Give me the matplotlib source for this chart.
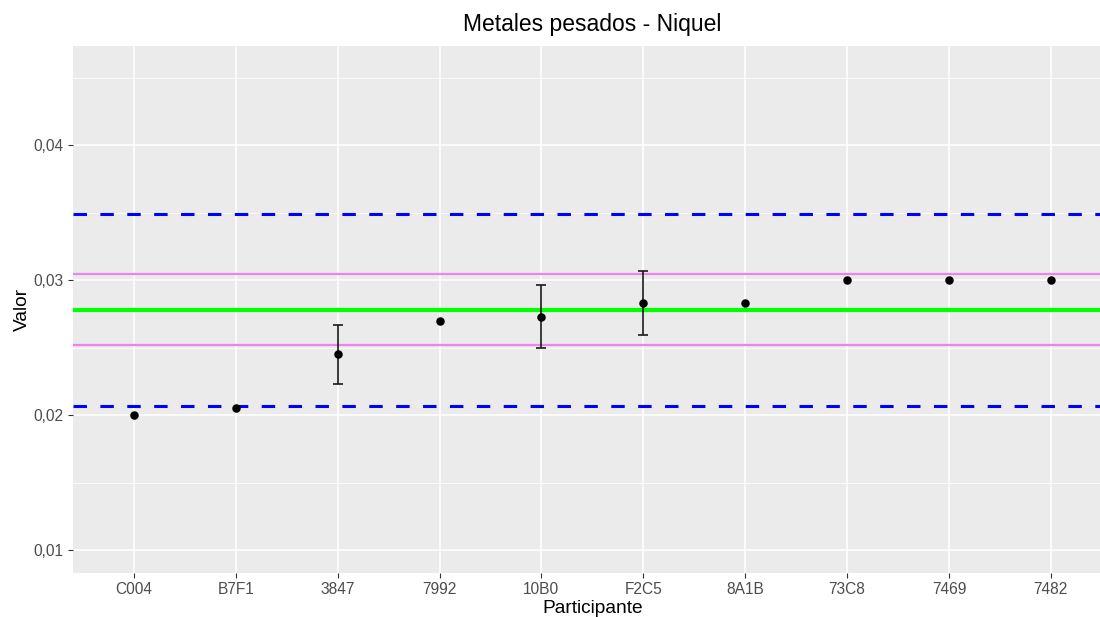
import numpy as np
import matplotlib
matplotlib.use("Agg")
import matplotlib.pyplot as plt
from matplotlib.ticker import FixedLocator, FuncFormatter

plt.rcParams['font.family'] = ['Liberation Sans', 'DejaVu Sans']

participantes = ['C004', 'B7F1', '3847', '7992', '10B0', 'F2C5', '8A1B', '73C8', '7469', '7482']
valores = [0.0200, 0.0205, 0.0245, 0.0270, 0.0273, 0.0283, 0.0283, 0.0300, 0.0300, 0.0300]
err_inf = [np.nan, np.nan, 0.0223, np.nan, 0.0250, 0.0259, np.nan, np.nan, np.nan, np.nan]
err_sup = [np.nan, np.nan, 0.0267, np.nan, 0.0296, 0.0307, np.nan, np.nan, np.nan, np.nan]

valor_asignado = 0.02778
lim_u = [0.02519, 0.03042]
lim_z = [0.02069, 0.03489]

fig = plt.figure(figsize=(11, 6.17), dpi=100)
ax = fig.add_axes([0.0661, 0.0713, 0.9448, 0.8546])
ax.set_facecolor('#EBEBEB')
for s in ax.spines.values():
    s.set_visible(False)

x = np.arange(1, len(participantes) + 1)
ax.set_xlim(0.4, len(participantes) + 0.6)
ax.set_ylim(0.0083, 0.04736)

# grid like ggplot
ax.yaxis.set_major_locator(FixedLocator([0.01, 0.02, 0.03, 0.04]))
ax.yaxis.set_minor_locator(FixedLocator([0.015, 0.025, 0.035, 0.045]))
ax.grid(which='major', color='white', lw=1.1)
ax.grid(which='minor', axis='y', color='white', lw=0.55)
ax.set_axisbelow(True)

ax.axhline(lim_z[0], color='#0000FF', lw=2.2, ls=(0, (4.4, 4.4)))
ax.axhline(lim_z[1], color='#0000FF', lw=2.2, ls=(0, (4.4, 4.4)))
ax.axhline(lim_u[0], color='#EE82EE', lw=1.6)
ax.axhline(lim_u[1], color='#EE82EE', lw=1.6)
ax.axhline(valor_asignado, color='#00FF00', lw=3)

lo = np.array(err_inf)
hi = np.array(err_sup)
m = ~np.isnan(lo)
ax.vlines(x[m], lo[m], hi[m], color='#1A1A1A', lw=1.2, zorder=4)
ax.hlines(lo[m], x[m] - 0.05, x[m] + 0.05, color='#1A1A1A', lw=1.2, zorder=4)
ax.hlines(hi[m], x[m] - 0.05, x[m] + 0.05, color='#1A1A1A', lw=1.2, zorder=4)
ax.scatter(x, valores, s=26, color='black', zorder=5)

ax.set_xticks(x)
ax.set_xticklabels(participantes)
ax.yaxis.set_major_formatter(FuncFormatter(lambda v, p: f'{v:.2f}'.replace('.', ',')))
ax.tick_params(which='major', length=3.5, width=0.8, color='#333333',
               labelcolor='#4D4D4D', labelsize=11.2, pad=3)
ax.tick_params(which='minor', length=0)

ax.set_xlabel('Participante', fontsize=13.8, labelpad=2)
ax.set_ylabel('Valor', fontsize=13.8, labelpad=2)
fig.text(0.538, 0.961, 'Metales pesados - Niquel', ha='center', va='center', fontsize=16.5)

fig.savefig('out.png', dpi=100)
